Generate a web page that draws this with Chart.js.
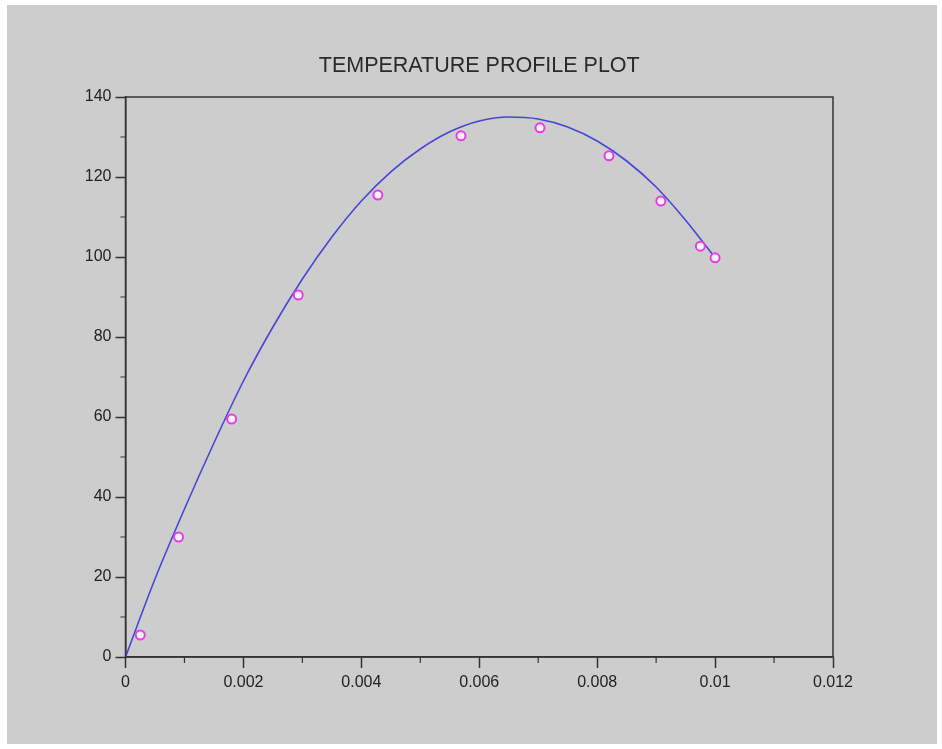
<!DOCTYPE html>
<html>
<head>
<meta charset="utf-8">
<script src="https://cdn.jsdelivr.net/npm/chart.js@4"></script>
<style>
  html, body { margin: 0; padding: 0; background: #ffffff; }
  #bg { position: absolute; left: 7px; top: 5px; width: 930px; height: 739px; background: #cdcdcd; }
  #wrap { position: absolute; left: 0; top: 0; width: 942px; height: 749px; }
</style>
</head>
<body>
<div id="bg"></div>
<div id="wrap"><canvas id="myChart" width="942" height="749"></canvas></div>
<script>
var chartTitle = 'TEMPERATURE PROFILE PLOT';

// measured points (x in m, temperature)
var measX = [0.00025, 0.0009, 0.0018, 0.00293, 0.00428, 0.00569, 0.00703, 0.0082, 0.00908, 0.00975, 0.01];
var measT = [5.5, 30, 59.5, 90.5, 115.5, 130.3, 132.3, 125.3, 114, 102.7, 99.8];

// fitted curve
var curveX = [0, 0.0005, 0.001, 0.0015, 0.002, 0.0025, 0.003, 0.0035, 0.004, 0.0045, 0.005,
              0.0055, 0.006, 0.0065, 0.007, 0.0075, 0.008, 0.0085, 0.009, 0.0095, 0.01];
var curveT = [0, 19.5, 37, 53.5, 69, 82.5, 94.5, 105, 114, 121.3, 127,
              131.3, 134, 135, 134.5, 132.5, 129, 124, 117.5, 109.2, 99.8];

var xTicks = [0, 0.002, 0.004, 0.006, 0.008, 0.01, 0.012];
var yTicks = [0, 20, 40, 60, 80, 100, 120, 140];

function pairs(xs, ys) {
    return xs.map(function(x, i) { return {x: x, y: ys[i]}; });
}

// Frame, minor ticks and title centred over the axes box (Scilab style)
var framePlugin = {
    id: 'frame',
    afterDraw: function(chart) {
        var ctx = chart.ctx;
        var a = chart.chartArea;
        var xs = chart.scales.x, ys = chart.scales.y;
        ctx.save();
        ctx.strokeStyle = '#333333';
        ctx.lineWidth = 1.5;
        ctx.strokeRect(a.left, a.top, a.right - a.left, a.bottom - a.top);
        ctx.lineWidth = 1.2;
        ctx.beginPath();
        for (var i = 0; i < xTicks.length - 1; i++) {
            var px = xs.getPixelForValue((xTicks[i] + xTicks[i + 1]) / 2);
            ctx.moveTo(px, a.bottom);
            ctx.lineTo(px, a.bottom + 6);
        }
        for (var j = 0; j < yTicks.length - 1; j++) {
            var py = ys.getPixelForValue((yTicks[j] + yTicks[j + 1]) / 2);
            ctx.moveTo(a.left, py);
            ctx.lineTo(a.left - 5, py);
        }
        ctx.stroke();

        ctx.fillStyle = '#2a2a2a';
        ctx.font = '21.5px "Liberation Sans", Arial, sans-serif';
        ctx.textAlign = 'center';
        ctx.textBaseline = 'middle';
        ctx.fillText(chartTitle, (a.left + a.right) / 2, a.top - 31);
        ctx.restore();
    }
};

window.onload = function() {
    var ctx = document.getElementById('myChart').getContext('2d');
    new Chart(ctx, {
        type: 'scatter',
        data: {
            datasets: [{
                label: 'measured',
                data: pairs(measX, measT),
                showLine: false,
                pointRadius: 4.5,
                pointBorderWidth: 2,
                pointBorderColor: '#e63ee6',
                pointBackgroundColor: '#fff0ff',
                order: 0
            }, {
                label: 'curve',
                data: pairs(curveX, curveT),
                showLine: true,
                borderColor: '#4646d8',
                borderWidth: 1.6,
                pointRadius: 0,
                cubicInterpolationMode: 'monotone',
                order: 1
            }]
        },
        options: {
            responsive: false,
            animation: false,
            layout: { padding: { left: 0, right: 109, top: 97, bottom: 0 } },
            plugins: {
                legend: { display: false },
                tooltip: { enabled: false },
                title: { display: false }
            },
            scales: {
                x: {
                    type: 'linear',
                    min: 0,
                    max: 0.012,
                    afterBuildTicks: function(scale) {
                        scale.ticks = xTicks.map(function(v) { return {value: v}; });
                    },
                    afterFit: function(scale) { scale.height = 92; },
                    border: { display: true, color: '#333333', width: 1.5 },
                    grid: { drawOnChartArea: false, drawTicks: true, tickLength: 11, tickColor: '#333333', tickWidth: 1.5 },
                    ticks: {
                        color: '#222222',
                        padding: 5,
                        maxRotation: 0,
                        font: { family: 'Liberation Sans, Arial, sans-serif', size: 16 },
                        callback: function(v) { return String(Number(v.toFixed(4))); }
                    }
                },
                y: {
                    type: 'linear',
                    min: 0,
                    max: 140,
                    afterBuildTicks: function(scale) {
                        scale.ticks = yTicks.map(function(v) { return {value: v}; });
                    },
                    afterFit: function(scale) { scale.width = 125.5; },
                    border: { display: true, color: '#333333', width: 1.5 },
                    grid: { drawOnChartArea: false, drawTicks: true, tickLength: 10, tickColor: '#333333', tickWidth: 1.5 },
                    ticks: {
                        color: '#222222',
                        padding: 4,
                        font: { family: 'Liberation Sans, Arial, sans-serif', size: 16 }
                    }
                }
            }
        },
        plugins: [framePlugin]
    });
};
</script>
</body>
</html>
